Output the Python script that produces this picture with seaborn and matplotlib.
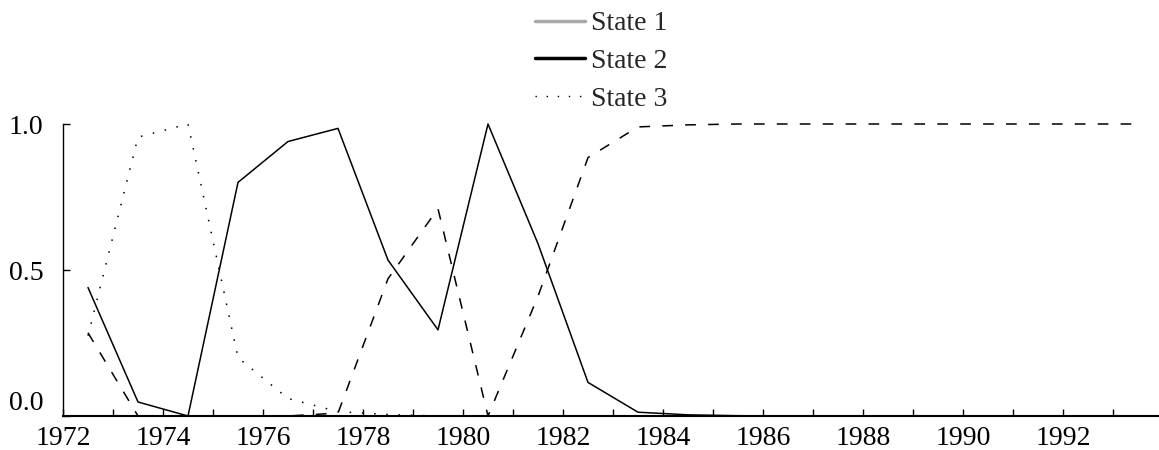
import seaborn as sns
import matplotlib.pyplot as plt
import matplotlib.ticker as mticker
from matplotlib.lines import Line2D
import numpy as np
import pandas as pd

# mid-year observations
years = [1972.5, 1973.5, 1974.5, 1975.5, 1976.5, 1977.5, 1978.5, 1979.5,
         1980.5, 1981.5, 1982.5, 1983.5, 1984.5, 1985.5, 1986.5, 1987.5,
         1988.5, 1989.5, 1990.5, 1991.5, 1992.5, 1993.5]

state1 = [0.285, 0.0, 0.0, 0.0, 0.0, 0.01, 0.47, 0.71,
          0.0, 0.41, 0.885, 0.99, 0.997, 1.0, 1.0, 1.0,
          1.0, 1.0, 1.0, 1.0, 1.0, 1.0]
state2 = [0.44, 0.048, 0.0, 0.80, 0.94, 0.985, 0.534, 0.295,
          1.0, 0.59, 0.115, 0.013, 0.004, 0.001, 0.0, 0.0,
          0.0, 0.0, 0.0, 0.0, 0.0, 0.0]
state3 = [0.275, 0.955, 1.0, 0.20, 0.06, 0.015, 0.005, 0.0,
          0.0, 0.0, 0.0, 0.0, 0.0, 0.0, 0.0, 0.0,
          0.0, 0.0, 0.0, 0.0, 0.0, 0.0]

legend_labels = ["State 1", "State 2", "State 3"]

sns.set_style("white")
plt.rcParams['font.family'] = ['Liberation Serif', 'DejaVu Serif']
plt.rcParams['font.size'] = 20

df = pd.DataFrame({"year": years, "s1": state1, "s2": state2, "s3": state3})

fig = plt.figure(figsize=(11.59, 4.5), dpi=100)
ax = fig.add_axes([63 / 1159, 34 / 450, 1 - 63 / 1159, 292 / 450])

sns.lineplot(data=df, x="year", y="s2", ax=ax, color="black", lw=1.1,
             clip_on=False)
sns.lineplot(data=df, x="year", y="s1", ax=ax, color="black", lw=1.1,
             linestyle=(0, (7, 8)), clip_on=False)
sns.lineplot(data=df, x="year", y="s3", ax=ax, color="black", lw=1.1,
             linestyle=(0, (1, 7)), clip_on=False)

ax.set_xlim(1972, 1972 + (1159 - 63) / 50)
ax.set_ylim(0, 1.0)
ax.set_xlabel("")
ax.set_ylabel("")

# axes look
for side in ["top", "right"]:
    ax.spines[side].set_visible(False)
ax.spines["left"].set_color("black")
ax.spines["bottom"].set_color("black")
ax.spines["bottom"].set_linewidth(1.5)
ax.spines["left"].set_linewidth(1.0)

ax.xaxis.set_major_locator(mticker.MultipleLocator(1))
ax.xaxis.set_major_formatter(mticker.FuncFormatter(
    lambda v, p: f"{int(round(v))}" if int(round(v)) % 2 == 0 else ""))
ax.set_yticks([0.0, 0.5, 1.0])
ax.set_yticklabels(["0.0", "0.5", "1.0"])
ax.tick_params(axis="x", direction="in", length=5, width=1, pad=7,
               bottom=True, colors="black")
ax.tick_params(axis="y", direction="in", length=5, width=1, pad=14,
               left=True, colors="black")
ax.get_yticklabels()[0].set_verticalalignment("bottom")

handles = [
    Line2D([], [], color="#aaaaaa", lw=2.5),
    Line2D([], [], color="black", lw=2.5),
    Line2D([], [], color="black", lw=1.0, linestyle=(0, (1, 7))),
]
fig.legend(handles, legend_labels, loc="upper left",
           bbox_to_anchor=(535 / 1159, 0.976), frameon=False,
           borderpad=0, borderaxespad=0, handlelength=1.8,
           handletextpad=0.2, labelspacing=0.44, fontsize=20)

plt.savefig("out.png", dpi=100)
